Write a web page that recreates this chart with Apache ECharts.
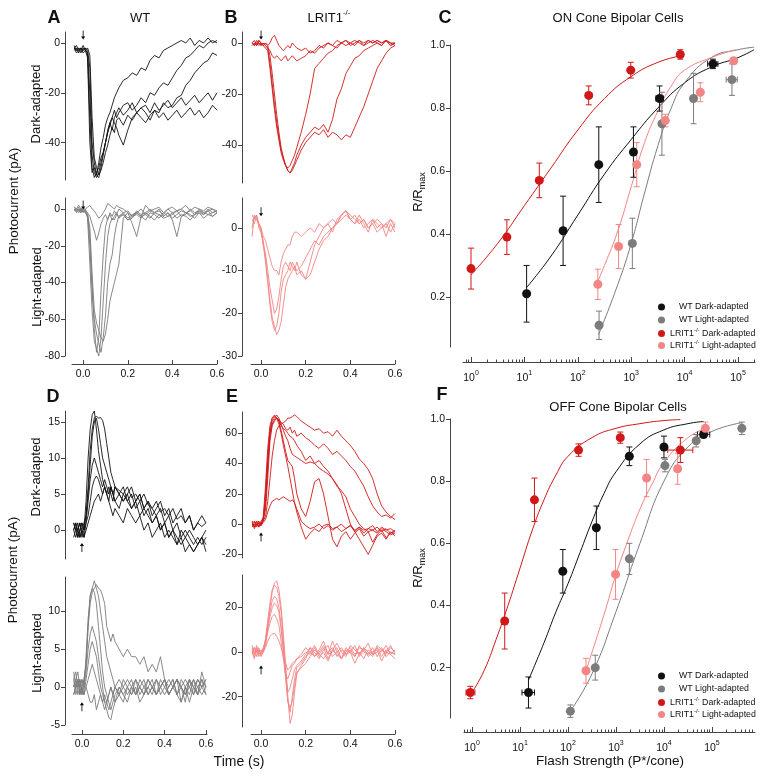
<!DOCTYPE html>
<html>
<head>
<meta charset="utf-8">
<script src="https://cdn.jsdelivr.net/npm/echarts@6/dist/echarts.min.js"></script>
<style>
  html, body { margin: 0; background: #fff; }
  #chart { width: 762px; height: 777px; }
</style>
</head>
<body>
<div id="chart"></div>
<script>
// 时间点 (s)
const T = [-0.04,-0.03,-0.02,-0.01,0,0.01,0.02,0.03,0.04,0.05,0.06,0.07,0.08,0.09,0.1,0.11,0.12,0.13,0.14,0.15,0.16,0.18,0.2,0.22,0.24,0.26,0.28,0.3,0.32,0.34,0.36,0.38,0.4,0.42,0.44,0.46,0.48,0.5,0.52,0.54,0.56,0.58,0.6]
const timeTicks = [0, 0.2, 0.4, 0.6]

// A: WT 暗适应 / 明适应 (ON)
const wtDarkOn = [
  [-1,-3,-2,-4,-2,-3,-6,-40,-52,-50, -53,-48,-42,-38,-33,-30,-28,-25,-22,-20, -18,-15,-14,-12,-13,-10,-11,-7,-5,-6, -3,-2,-1,0,1,0,2,-1,1,0, 2,0,1],
  [-2,-1,-3,-2,-3,-2,-5,-30,-50,-54, -52,-50,-46,-44,-40,-35,-32,-30,-27,-30, -28,-25,-24,-27,-25,-22,-24,-20,-21,-18, -16,-17,-14,-11,-9,-6,-5,-3,-1,-2, 0,1,0],
  [-2,-3,-2,-3,-1,-3,-4,-20,-45,-52, -54,-52,-48,-44,-40,-36,-33,-30,-32,-34, -37,-41,-35,-30,-28,-26,-28,-31,-27,-28, -24,-26,-25,-22,-21,-17,-15,-12,-10,-8, -7,-4,-5],
  [-3,-2,-4,-2,-3,-2,-3,-10,-40,-48, -53,-54,-50,-45,-40,-36,-32,-35,-30,-28, -26,-29,-27,-24,-28,-26,-25,-28,-24,-27, -25,-23,-26,-24,-22,-25,-23,-21,-24,-22, -20,-23,-20],
  [-2,-4,-3,-2,-4,-3,-2,-5,-30,-46, -50,-53,-51,-48,-44,-41,-37,-34,-36,-31, -30,-33,-29,-31,-28,-30,-32,-29,-27,-30, -28,-31,-29,-27,-30,-28,-26,-29,-27,-30, -28,-25,-27]
]
const wtLightOn = [
  [0,-1,1,-2,0,-1,-2,-4,-8,-12, -17,-13,-8,-5,-3,-6,-2,-4,-1,-3, 0,-2,-1,-4,-2,0,-3,-1,-2,0, -4,-2,-6,-15,-4,-3,0,-2,-1,-3, 0,-2,-1],
  [1,0,-1,0,-2,0,-3,-15,-40,-65, -78,-70,-45,-25,-10,-5,-3,-6,-4,-2, -5,-3,-6,-4,-3,-5,-2,-4,-6,-3, -5,-4,-2,-5,-3,-4,-6,-3,-2,-5, -3,-4,-2],
  [0,-1,-2,0,-1,-1,-5,-30,-55,-72, -76,-80,-70,-50,-30,-15,-8,-5,-6,-3, -4,-2,-5,-3,-2,-4,-6,-2,-3,-5, -2,-4,-3,-1,-4,-2,-3,-5,-2,-3, -1,-4,-2],
  [-1,0,-1,-2,0,-2,-4,-20,-45,-60, -68,-73,-78,-70,-58,-40,-30,-25,-15,-8, -4,-3,-6,-5,-2,-4,-3,-5,-2,-3, -4,-2,-5,-3,-1,-2,-4,-3,-1,-2, -3,-2,-1],
  [0,-2,0,-1,-1,-2,-3,-10,-35,-55, -62,-66,-70,-72,-68,-60,-50,-45,-40,-35, -30,-5,-2,-4,-1,-3,-2,0,-2,-1, -3,0,-2,-1,0,-2,-1,-3,0,-2, -1,0,-2],
  [1,0,2,0,1,0,1,2,0,-1, -3,-5,-4,-2,0,3,2,1,0,2, 1,0,-2,-8,-15,-4,2,-1,0,1, -2,0,1,-1,0,2,-1,1,0,-1, 1,0,-1]
]
// B: LRIT1-/- (ON)
const koDarkOn = [
  [0,-1,1,0,-1,0,-1,-2,-3,-5, -6,-5,-6,-7,-6,-5,-7,-6,-5,-6, -7,-6,-5,-3,-4,-2,-1,0,-1,1, 0,1,0,-1,1,0,1,0,1,0, 1,-1,0],
  [-1,0,-1,1,0,-1,0,-1,0,2, 3,1,-1,-2,-3,-2,-1,-2,0,-1, -2,-3,-2,-4,-3,-1,-2,0,-1,-2, 0,1,-1,0,1,-1,0,1,0,-1, 1,-1,0],
  [0,-1,0,-1,0,-1,-2,-3,-10,-18, -26,-33,-38,-43,-46,-48,-49,-48,-46,-44, -41,-35,-28,-20,-10,-8,-6,-4,-3,-1, 0,-1,0,1,0,-1,1,0,1,0, 1,0,0],
  [0,-1,0,1,0,-1,0,-1,-5,-12, -20,-28,-35,-41,-45,-48,-50,-51,-49,-47, -44,-40,-37,-35,-33,-34,-32,-35,-30,-22, -18,-12,-9,-6,-5,-3,-2,-1,0,-1, 1,0,-1],
  [0,1,-1,0,-1,0,-1,-2,-8,-16, -24,-31,-37,-42,-45,-48,-50,-51,-50,-48, -46,-42,-39,-37,-35,-36,-34,-37,-35,-36, -38,-36,-37,-33,-29,-25,-20,-15,-10,-7, -4,-2,-1]
]
const koLightOn = [
  [-2,3,2,1,0,-2,-3,-5,-7,-9, -10,-10,-11,-8,-6,-5,-4,-4,-2,-1, -1,-2,-1,0,-1,1,0,1,2,1, 3,4,3,2,1,2,0,1,2,1, 0,2,1],
  [3,2,3,0,-1,-4,-6,-10,-14,-17, -20,-19,-16,-12,-9,-8,-9,-10,-8,-9, -10,-9,-7,-5,-3,-4,-2,-1,0,1, 2,3,2,1,2,0,1,2,1,0, 1,2,0],
  [0,3,2,1,-1,-3,-7,-12,-17,-21, -23,-25,-24,-22,-18,-14,-12,-11,-10,-9, -11,-10,-12,-11,-8,-5,-3,-2,0,1, 3,4,2,3,1,2,0,1,-1,0, 1,-1,1],
  [2,1,3,1,0,-4,-8,-13,-18,-22, -24,-23,-20,-15,-12,-11,-10,-8,-9,-10, -8,-11,-12,-8,-4,-2,0,1,-1,2, 3,4,2,1,3,1,-1,2,0,1, -2,1,-1]
]
// D: WT (OFF)
const wtDarkOff = [
  [0,1,-1,0,1,0,4,10,14,16, 16.5,14,11,9,7,6,5,6,5,4, 6,5,4,5,3,4,5,3,4,2, 3,4,2,3,1,2,3,1,2,0, 1,2,1],
  [1,0,0,-1,0,1,2,6,11,14, 15.5,15.8,15.5,15.6,15.2,14,12,10,8,7, 6,5.5,5,6,4.5,5,4,5,3.5,3, 4,2.5,3,2,3,1.5,2,1,2,0, 1,0.5,1],
  [0,1,0,1,-1,0,2,5,9,13, 15,15.5,14,12,10,9,8,7,6,5, 6,5,4,5,6,4,5,3,4,3, 2,3,1,2,0,1,-1,0,-1,-2, -1,-2,-1],
  [1,0,-1,0,1,0,1,4,7,9, 10,9,8,7,6,7,6,5,6,5, 4,5,6,4,5,3,4,2,3,1, 2,0,1,-1,0,-2,-1,-3,-2,-3, -2,-1,-2],
  [-1,0,1,-1,0,-1,1,2,4,6, 7,7.5,7,6,5,6,5,4,6,5, 4,3,5,4,3,4,2,3,2,1, 2,0,1,-1,0,-1,-2,-1,0,-1, -2,-1,0],
  [0,-1,0,1,0,-1,0,1,2,3, 4,4.5,5,4,5,6,5,4,3,2, 3,2,1,3,2,1,2,0,1,-1, 0,1,-1,0,-1,-2,0,-1,-2,-3, -2,-1,-3]
]
const wtLightOff = [
  [1,2,0,1,-1,1,3,8,11,12.5, 13,13.5,13,12.8,12,11,8,7,6,7, 6,5,4,5,4,4,3,4,2,3, 2,4,1,0,1,-1,0,1,0,-1, 1,0,1],
  [0,1,2,0,1,0,4,9,12,13, 14,13,12,10,8,6,4,3,2,1, 0,-1,1,0,-1,1,0,-1,0,1, -1,0,1,-1,0,1,-2,0,1,-1, 0,1,0],
  [2,0,1,-1,0,1,3,8,12,13, 12.5,11,8,5,2,0,-1,-2,-3,-2, -1,0,-1,0,1,-1,0,-1,1,0, -1,0,1,-1,0,1,0,-1,1,0, -1,2,0],
  [-1,0,1,0,-1,0,2,5,7,8, 7,6,4,2,0,-2,-3,-4,-4.3,-3, -2,-1,-2,0,-1,0,-2,-1,0,-1, 1,0,-1,0,1,-1,-2,0,-1,1, 0,-1,0],
  [1,-1,0,1,0,-1,1,3,5,6, 5,4,2,0,-1,-2,-2,-3,-2,-1, -2,0,-1,-2,0,-1,1,0,-1,0, -1,1,0,-1,0,1,0,-2,1,0, -1,1,-1],
  [0,1,-1,0,1,0,0,1,2,3, 2,1,0,-1,-2,-1,-2,-1,0,-1, 0,1,0,-1,0,1,-1,0,1,0, 1,-1,0,1,0,-1,1,0,-2,0, 1,0,1],
  [-1,0,1,-1,0,-1,0,-1,-2,-2, -1,-3,-2,-1,-2,-3,-2,-1,0,-1, 0,-1,0,1,0,-1,0,1,-1,0, -1,0,1,-1,0,1,0,-1,0,1, -1,0,-1]
]
// E: LRIT1-/- (OFF)
const koDarkOff = [
  [0,-2,2,0,-1,1,3,8,12,15, 16,17,16,17,18,17,16,15,16,14, 10,2,-1,-3,-2,0,-3,-1,-4,-2, 0,-3,-1,-5,-2,-4,-3,-1,-5,-2, -4,-3,-5],
  [2,-3,0,-2,0,5,25,50,65,70, 72,70,66,60,52,45,38,30,22,14, 8,-2,-10,-6,-3,-5,-1,0,-3,-2, -5,-3,-1,-4,-2,-6,-3,-4,-2,-5, -3,-6,-4],
  [0,2,-1,1,0,3,20,45,62,70, 71,70,68,62,55,48,42,40,38,30, 20,10,5,15,28,30,20,5,-10,-15, -8,-5,-10,-6,-3,-8,-5,-12,-7,-4, -9,-6,-5],
  [-2,1,0,-1,2,4,15,40,60,68, 70,72,70,66,62,58,55,50,46,45, 44,42,40,41,40,37,35,33,30,26, 20,10,0,-5,-10,-15,-20,-14,-8,-6, -10,-5,-8],
  [0,-1,2,-2,1,2,10,30,55,65, 68,70,69,67,66,63,62,64,60,62, 58,60,57,55,52,50,53,50,46,48, 45,42,38,35,30,25,18,12,8,5, 6,4,7],
  [-1,0,-2,1,0,2,5,15,30,45, 55,62,65,66,67,68,70,70,71,72, 71,68,66,64,62,63,60,61,58,62, 58,55,52,48,43,40,36,30,20,12, 8,5,3],
  [1,-2,0,2,-1,3,12,38,58,66, 69,70,68,65,63,62,60,58,57,55, 52,48,42,45,40,42,38,35,30,25, 22,18,10,5,0,-3,-5,-4,-6,-3, -5,-7,-6]
]
const koLightOff = [
  [2,-1,3,0,1,0,5,12,20,27, 31,32,28,20,8,-5,-20,-32,-28,-18, -10,-6,-3,2,-2,0,3,-1,5,0, -3,2,0,3,-2,1,4,-1,2,0, 3,-1,1],
  [0,2,-2,1,-1,1,6,14,22,28, 30,29,25,18,5,-8,-22,-27,-20,-12, -7,-5,-2,0,3,-1,2,-3,1,4, 0,-2,3,1,-1,2,0,-2,3,1, -1,2,0],
  [3,0,1,-2,0,2,5,12,18,23, 25,24,20,12,2,-10,-18,-16,-12,-8, -6,-4,-1,2,0,-3,1,3,-2,0, 2,-1,1,-2,3,0,-1,2,-2,1, 0,3,-1],
  [1,-2,0,2,-1,0,4,9,13,16, 17,15,12,5,-3,-10,-12,-9,-6,-5, -3,-1,2,0,-2,1,5,-1,0,2, -3,1,0,-2,2,1,-1,0,2,-2, 1,0,-1],
  [-1,2,0,1,-2,0,2,5,7,8, 8.5,7,5,2,-2,-5,-8,-7,-5,-4, -3,-2,0,-1,2,-2,0,-4,1,-1, -3,0,2,-1,0,-3,1,-1,0,2, -2,0,-1],
  [0,-3,2,-1,0,1,3,10,16,20, 22,21,18,10,0,-12,-22,-25,-22,-15, -9,-7,-5,-2,1,-1,-3,0,2,-2, 1,-1,0,-5,-1,2,-2,0,1,-4, 0,-1,-3]
]
// 刺激箭头的 y 值
const arrowLevels = [3.2, 2.2, 3.1, 3.8, -2.4, -2.6, -8.6, -8]

// C: ON 视锥双极细胞 强度-反应
const onWtDarkX = [11, 53, 247, 1100, 3400, 34000]
const onWtDarkY = [0.21, 0.41, 0.62, 0.66, 0.83, 0.94]
const onWtDarkErr = [0.09, 0.11, 0.12, 0.08, 0.04, 0.015]
const onWtDarkXErr = [null, null, null, null, [2900, 4000], [27000, 42000]]
const onWtLightX = [250, 1050, 3760, 14700, 77000]
const onWtLightY = [0.11, 0.37, 0.75, 0.83, 0.89]
const onWtLightErr = [0.045, 0.08, 0.10, 0.08, 0.05]
const onWtLightXErr = [null, null, null, null, [60000, 97000]]
const onKoDarkX = [1, 4.7, 19, 160, 980, 8300]
const onKoDarkY = [0.29, 0.39, 0.57, 0.84, 0.92, 0.97]
const onKoDarkErr = [0.065, 0.055, 0.055, 0.03, 0.025, 0.015]
const onKoDarkXErr = [null, null, null, null, null, null]
const onKoLightX = [237, 580, 1270, 4350, 19700, 83000]
const onKoLightY = [0.24, 0.36, 0.62, 0.76, 0.85, 0.95]
const onKoLightErr = [0.048, 0.07, 0.07, 0.02, 0.03, 0.01]
const onKoLightXErr = [null, null, null, null, null, null]
// C 拟合曲线
const onWtDarkFitX = [11, 31.6, 100, 316, 1000, 3162, 10000, 31623, 100000, 200000]
const onWtDarkFitY = [0.23, 0.33, 0.46, 0.59, 0.70, 0.80, 0.88, 0.93, 0.96, 0.985]
const onWtLightFitX = [245, 562, 1000, 1778, 3162, 5623, 10000, 31623, 100000, 200000]
const onWtLightFitY = [0.08, 0.24, 0.37, 0.53, 0.68, 0.80, 0.88, 0.96, 0.985, 0.993]
const onKoDarkFitX = [1, 3.16, 10, 31.6, 100, 316, 1000, 3162, 8300]
const onKoDarkFitY = [0.27, 0.37, 0.49, 0.61, 0.73, 0.83, 0.90, 0.945, 0.965]
const onKoLightFitX = [237, 316, 562, 1000, 1778, 3162, 5623, 10000, 31623, 89000]
const onKoLightFitY = [0.25, 0.30, 0.41, 0.55, 0.69, 0.79, 0.87, 0.92, 0.96, 0.985]

// F: OFF 视锥双极细胞 强度-反应
const offWtDarkX = [15, 78, 390, 1900, 10000, 67000]
const offWtDarkY = [0.12, 0.51, 0.65, 0.88, 0.91, 0.95]
const offWtDarkErr = [0.05, 0.07, 0.07, 0.03, 0.035, 0.01]
const offWtDarkXErr = [[11, 20], null, null, null, null, [50000, 90000]]
const offWtLightX = [112, 370, 1900, 10500, 47000, 420000]
const offWtLightY = [0.06, 0.20, 0.55, 0.85, 0.93, 0.97]
const offWtLightErr = [0.02, 0.04, 0.05, 0.02, 0.02, 0.02]
const offWtLightXErr = [null, null, null, null, null, null]
const offKoDarkX = [0.92, 4.8, 20, 166, 1230, 22000]
const offKoDarkY = [0.12, 0.35, 0.74, 0.90, 0.94, 0.90]
const offKoDarkErr = [0.02, 0.09, 0.07, 0.02, 0.018, 0.04]
const offKoDarkXErr = [[0.75, 1.15], null, null, null, null, [12000, 40000]]
const offKoLightX = [237, 980, 4350, 19300, 73000]
const offKoLightY = [0.19, 0.50, 0.81, 0.84, 0.97]
const offKoLightErr = [0.04, 0.08, 0.06, 0.05, 0.02]
const offKoLightXErr = [null, null, null, null, null]
const offWtDarkFitX = [15, 31.6, 56.2, 100, 178, 316, 562, 1000, 3162, 10000, 31623, 67000]
const offWtDarkFitY = [0.16, 0.28, 0.38, 0.47, 0.57, 0.67, 0.76, 0.83, 0.92, 0.965, 0.985, 0.992]
const offWtLightFitX = [112, 316, 1000, 3162, 10000, 31623, 100000, 420000]
const offWtLightFitY = [0.06, 0.18, 0.38, 0.60, 0.80, 0.91, 0.96, 0.988]
const offKoDarkFitX = [1, 1.78, 3.16, 5.62, 10, 17.8, 31.6, 56.2, 100, 316, 1000, 3162, 10000, 22000]
const offKoDarkFitY = [0.12, 0.19, 0.29, 0.40, 0.52, 0.64, 0.74, 0.82, 0.88, 0.94, 0.97, 0.985, 0.995, 0.998]
const offKoLightFitX = [237, 562, 1000, 1778, 3162, 5623, 10000, 31623, 76000]
const offKoLightFitY = [0.19, 0.37, 0.50, 0.61, 0.71, 0.79, 0.86, 0.94, 0.97]

const rTicks = [0.2, 0.4, 0.6, 0.8, 1.0]
const decadeTicks = [1, 10, 100, 1000, 10000, 100000]

// 颜色
const C_WT_DARK = '#111111'
const C_WT_LIGHT = '#7c7c7c'
const C_KO_DARK = '#d01818'
const C_KO_LIGHT = '#f38585'
const AXIS_COLOR = '#444'
const TEXT_COLOR = '#111'
const FONT = 'Liberation Sans, Arial, sans-serif'

const NAME_WT_DARK = 'WT Dark-adapted'
const NAME_WT_LIGHT = 'WT Light-adapted'
const NAME_KO_DARK = 'LRIT1 Dark-adapted'
const NAME_KO_LIGHT = 'LRIT1 Light-adapted'

// 次刻度 2..9 × 10^n
const minorTicks = []
for (let e = -1; e <= 5; e++) {
  for (let k = 2; k <= 9; k++) minorTicks.push(k * Math.pow(10, e))
}

// 网格布局: 0 A上 1 A下 2 B上 3 B下 4 C 5 D上 6 D下 7 E上 8 E下 9 F
const grids = [
  { left: 72, top: 32, width: 145, height: 148 },
  { left: 72, top: 198, width: 145, height: 158 },
  { left: 251, top: 32, width: 144, height: 151 },
  { left: 251, top: 198, width: 144, height: 158 },
  { left: 463, top: 45, width: 292, height: 302 },
  { left: 72, top: 411, width: 135, height: 148 },
  { left: 72, top: 577, width: 135, height: 148 },
  { left: 251, top: 412, width: 144, height: 146 },
  { left: 251, top: 575, width: 144, height: 152 },
  { left: 464, top: 419, width: 291, height: 299 }
]

const timeX = (gi, min, max, show, offset) => ({
  type: 'value', gridIndex: gi, min, max, show, position: 'bottom', offset: offset || 0,
  axisLine: { show: true, onZero: false, lineStyle: { color: AXIS_COLOR, width: 1 } },
  axisTick: { show: true, inside: true, length: 4, customValues: timeTicks, lineStyle: { color: AXIS_COLOR } },
  axisLabel: { customValues: timeTicks, formatter: v => v.toFixed(1), fontSize: 10.5, color: TEXT_COLOR, margin: 5, fontFamily: FONT },
  splitLine: { show: false }
})

const valueY = (gi, min, max, ticks, offset, fmt) => ({
  type: 'value', gridIndex: gi, min, max, offset,
  axisLine: { show: true, onZero: false, lineStyle: { color: AXIS_COLOR, width: 1 } },
  axisTick: { show: true, length: 4, customValues: ticks, lineStyle: { color: AXIS_COLOR } },
  axisLabel: { customValues: ticks, fontSize: 10.5, color: TEXT_COLOR, margin: 5, fontFamily: FONT, formatter: fmt },
  splitLine: { show: false }
})

const logX = (gi, min, max, offset, minor) => ({
  type: 'log', logBase: 10, gridIndex: gi, min, max, position: 'bottom', offset,
  axisLine: { show: !minor, onZero: false, lineStyle: { color: AXIS_COLOR, width: 1 } },
  axisTick: { show: true, inside: true, length: minor ? 2.5 : 5, customValues: minor ? minorTicks : decadeTicks, lineStyle: { color: AXIS_COLOR } },
  axisLabel: minor ? { show: false } : {
    customValues: decadeTicks, margin: 8, color: TEXT_COLOR, fontFamily: FONT,
    formatter: v => '{b|10}{s|' + Math.round(Math.log10(v)) + '}',
    rich: {
      b: { fontSize: 10.5, lineHeight: 16, color: TEXT_COLOR, fontFamily: FONT },
      s: { fontSize: 7, verticalAlign: 'top', color: TEXT_COLOR, fontFamily: FONT }
    }
  },
  splitLine: { show: false }
})

// 电流轨迹
const ARROW = 'path://M3,0 L6,6 L3.6,6 L3.6,18 L2.4,18 L2.4,6 L0,6 Z'
const traces = (gi, list, color, arrowV, down) => list.map((arr, k) => ({
  type: 'line', xAxisIndex: gi, yAxisIndex: gi, showSymbol: false, silent: true,
  lineStyle: { color, width: 0.9 }, itemStyle: { color },
  data: T.map((t, i) => [t, arr[i]]),
  markPoint: k === 0 ? {
    symbol: ARROW, symbolSize: [4, 9], symbolRotate: down ? 180 : 0, silent: true,
    itemStyle: { color: '#000' }, label: { show: false },
    data: [{ coord: [0, arrowV] }]
  } : undefined
}))

// 误差棒
const errorBars = (gi, xs, ys, errs, xerrs, color) => ({
  type: 'custom', xAxisIndex: gi, yAxisIndex: gi, silent: true, clip: false, z: 3,
  encode: { x: 0, y: 1 },
  data: xs.map((x, i) => [x, ys[i], ys[i] - errs[i], ys[i] + errs[i],
    xerrs[i] ? xerrs[i][0] : x, xerrs[i] ? xerrs[i][1] : x]),
  renderItem(params, api) {
    const x = api.value(0), y = api.value(1)
    const lo = api.coord([x, api.value(2)])
    const hi = api.coord([x, api.value(3)])
    const l = api.coord([api.value(4), y])
    const r = api.coord([api.value(5), y])
    const st = { stroke: color, lineWidth: 1 }
    const seg = (x1, y1, x2, y2) => ({ type: 'line', shape: { x1, y1, x2, y2 }, style: st })
    const cap = 3
    const children = [
      seg(lo[0], lo[1], hi[0], hi[1]),
      seg(lo[0] - cap, lo[1], lo[0] + cap, lo[1]),
      seg(hi[0] - cap, hi[1], hi[0] + cap, hi[1])
    ]
    if (r[0] - l[0] > 1) {
      children.push(seg(l[0], l[1], r[0], r[1]))
      children.push(seg(l[0], l[1] - cap, l[0], l[1] + cap))
      children.push(seg(r[0], r[1] - cap, r[0], r[1] + cap))
    }
    return { type: 'group', children }
  }
})

const points = (gi, name, xs, ys, color) => ({
  type: 'scatter', name, xAxisIndex: gi, yAxisIndex: gi, symbolSize: 9, z: 4, silent: true,
  itemStyle: { color, opacity: 1 },
  data: xs.map((x, i) => [x, ys[i]])
})

const fit = (gi, xs, ys, color) => ({
  type: 'line', xAxisIndex: gi, yAxisIndex: gi, showSymbol: false, smooth: true, silent: true, z: 2,
  lineStyle: { color, width: 1 },
  data: xs.map((x, i) => [x, ys[i]])
})

const doseSeries = (gi, groups) => {
  const out = []
  groups.forEach(g => {
    out.push(fit(gi, g.fx, g.fy, g.color))
    out.push(errorBars(gi, g.x, g.y, g.err, g.xerr, g.color))
    out.push(points(gi, g.name, g.x, g.y, g.color))
  })
  return out
}

const legendFmt = name => {
  if (name.indexOf('LRIT1') === 0) return '{b|LRIT1}{s|-/-}{b|' + name.slice(5) + '}'
  return '{p|}{b|' + name + '}'
}
const legendBox = (left, top) => ({
  left, top, orient: 'vertical', itemGap: 1, itemWidth: 7, itemHeight: 7, icon: 'circle',
  selectedMode: false,
  data: [NAME_WT_DARK, NAME_WT_LIGHT, NAME_KO_DARK, NAME_KO_LIGHT],
  formatter: legendFmt,
  textStyle: {
    rich: {
      b: { fontSize: 8.8, lineHeight: 13, color: TEXT_COLOR, fontFamily: FONT },
      s: { fontSize: 6, verticalAlign: 'top', color: TEXT_COLOR, fontFamily: FONT },
      p: { width: 9 }
    }
  }
})

const txt = (x, y, text, size, opt) => Object.assign({
  type: 'text', x, y, silent: true,
  style: Object.assign({ text, fontSize: size, fill: TEXT_COLOR, fontFamily: FONT, align: 'center', verticalAlign: 'middle' }, (opt && opt.style) || {})
}, opt && opt.rotation ? { rotation: opt.rotation } : {})

const supRich = {
  b: { fontSize: 13, lineHeight: 18, fill: TEXT_COLOR, fontFamily: FONT },
  s: { fontSize: 8, verticalAlign: 'top', fill: TEXT_COLOR, fontFamily: FONT },
  d: { fontSize: 9, verticalAlign: 'bottom', fill: TEXT_COLOR, fontFamily: FONT }
}

const graphics = [
  txt(54, 18, 'A', 18, { style: { fontWeight: 'bold' } }),
  txt(140, 18, 'WT', 13),
  txt(231, 18, 'B', 18, { style: { fontWeight: 'bold' } }),
  txt(329, 18, '{b|LRIT1}{s|-/-}', 13, { style: { rich: supRich } }),
  txt(445, 18, 'C', 18, { style: { fontWeight: 'bold' } }),
  txt(618, 18, 'ON Cone Bipolar Cells', 13),
  txt(53, 397, 'D', 18, { style: { fontWeight: 'bold' } }),
  txt(232, 397, 'E', 18, { style: { fontWeight: 'bold' } }),
  txt(442, 395, 'F', 18, { style: { fontWeight: 'bold' } }),
  txt(618, 407, 'OFF Cone Bipolar Cells', 13),
  txt(14, 201, 'Photocurrent (pA)', 13.5, { rotation: Math.PI / 2 }),
  txt(13, 570, 'Photocurrent (pA)', 13.5, { rotation: Math.PI / 2 }),
  txt(36, 104, 'Dark-adapted', 13, { rotation: Math.PI / 2 }),
  txt(37, 287, 'Light-adapted', 13, { rotation: Math.PI / 2 }),
  txt(36, 477, 'Dark-adapted', 13, { rotation: Math.PI / 2 }),
  txt(37, 653, 'Light-adapted', 13, { rotation: Math.PI / 2 }),
  txt(418, 192, '{b|R/R}{d|max}', 13, { rotation: Math.PI / 2, style: { rich: supRich } }),
  txt(418, 568, '{b|R/R}{d|max}', 13, { rotation: Math.PI / 2, style: { rich: supRich } }),
  txt(239, 762, 'Time (s)', 14),
  txt(610, 761, 'Flash Strength (P*/cone)', 13.5)
]

const onGroups = [
  { name: NAME_WT_DARK, x: onWtDarkX, y: onWtDarkY, err: onWtDarkErr, xerr: onWtDarkXErr, fx: onWtDarkFitX, fy: onWtDarkFitY, color: C_WT_DARK },
  { name: NAME_WT_LIGHT, x: onWtLightX, y: onWtLightY, err: onWtLightErr, xerr: onWtLightXErr, fx: onWtLightFitX, fy: onWtLightFitY, color: C_WT_LIGHT },
  { name: NAME_KO_DARK, x: onKoDarkX, y: onKoDarkY, err: onKoDarkErr, xerr: onKoDarkXErr, fx: onKoDarkFitX, fy: onKoDarkFitY, color: C_KO_DARK },
  { name: NAME_KO_LIGHT, x: onKoLightX, y: onKoLightY, err: onKoLightErr, xerr: onKoLightXErr, fx: onKoLightFitX, fy: onKoLightFitY, color: C_KO_LIGHT }
]
const offGroups = [
  { name: NAME_WT_DARK, x: offWtDarkX, y: offWtDarkY, err: offWtDarkErr, xerr: offWtDarkXErr, fx: offWtDarkFitX, fy: offWtDarkFitY, color: C_WT_DARK },
  { name: NAME_WT_LIGHT, x: offWtLightX, y: offWtLightY, err: offWtLightErr, xerr: offWtLightXErr, fx: offWtLightFitX, fy: offWtLightFitY, color: C_WT_LIGHT },
  { name: NAME_KO_DARK, x: offKoDarkX, y: offKoDarkY, err: offKoDarkErr, xerr: offKoDarkXErr, fx: offKoDarkFitX, fy: offKoDarkFitY, color: C_KO_DARK },
  { name: NAME_KO_LIGHT, x: offKoLightX, y: offKoLightY, err: offKoLightErr, xerr: offKoLightXErr, fx: offKoLightFitX, fy: offKoLightFitY, color: C_KO_LIGHT }
]

const option = {
  animation: false,
  backgroundColor: '#fff',
  textStyle: { fontFamily: FONT },
  grid: grids,
  xAxis: [
    timeX(0, -0.05, 0.6, false),
    timeX(1, -0.05, 0.6, true, 8),
    timeX(2, -0.045, 0.6, false),
    timeX(3, -0.045, 0.6, true, 8),
    logX(4, 0.708, 208000, 15, false),
    timeX(5, -0.048, 0.605, false),
    timeX(6, -0.048, 0.605, true, 9),
    timeX(7, -0.045, 0.6, false),
    timeX(8, -0.045, 0.6, true, 7),
    logX(9, 0.68, 790000, 14, false),
    logX(4, 0.708, 208000, 15, true),
    logX(9, 0.68, 790000, 14, true)
  ],
  yAxis: [
    valueY(0, -55, 4.4, [-40, -20, 0], 7),
    valueY(1, -80, 6, [-80, -60, -40, -20, 0], 7),
    valueY(2, -54.9, 4.3, [-40, -20, 0], 9),
    valueY(3, -30, 7, [-30, -20, -10, 0], 9),
    valueY(4, 0.041, 1.0, rTicks, 13, v => v.toFixed(1)),
    valueY(5, -4, 16.5, [0, 5, 10, 15], 7),
    valueY(6, -5, 14.5, [-5, 0, 5, 10], 7),
    valueY(7, -22.4, 74, [-20, 0, 20, 40, 60], 9),
    valueY(8, -33.6, 34.6, [-20, 0, 20], 9),
    valueY(9, 0.038, 1.0, rTicks, 14, v => v.toFixed(1))
  ],
  legend: [legendBox(653, 296), legendBox(653, 665)],
  graphic: graphics,
  series: [
    ...traces(0, wtDarkOn, C_WT_DARK, arrowLevels[0], true),
    ...traces(1, wtLightOn, C_WT_LIGHT, arrowLevels[1], true),
    ...traces(2, koDarkOn, C_KO_DARK, arrowLevels[2], true),
    ...traces(3, koLightOn, C_KO_LIGHT, arrowLevels[3], true),
    ...traces(5, wtDarkOff, C_WT_DARK, arrowLevels[4], false),
    ...traces(6, wtLightOff, C_WT_LIGHT, arrowLevels[5], false),
    ...traces(7, koDarkOff, C_KO_DARK, arrowLevels[6], false),
    ...traces(8, koLightOff, C_KO_LIGHT, arrowLevels[7], false),
    ...doseSeries(4, onGroups),
    ...doseSeries(9, offGroups)
  ]
}

const chart = echarts.init(document.getElementById('chart'), null, { renderer: 'canvas' })
chart.setOption(option)
</script>
</body>
</html>
